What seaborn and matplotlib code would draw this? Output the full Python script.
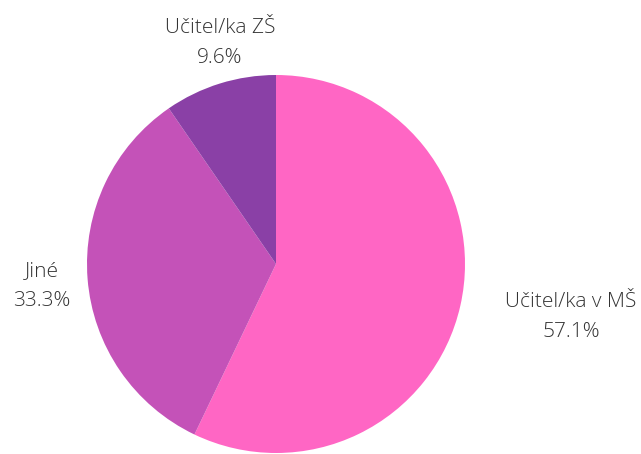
import matplotlib
matplotlib.use("Agg")
import matplotlib.pyplot as plt
import seaborn as sns

categories = ["Učitel/ka v MŠ", "Jiné", "Učitel/ka ZŠ"]
values = [57.1, 33.3, 9.6]
colors = ["#FF66C4", "#C452B8", "#8A40A6"]

sns.set_theme(style="white")
plt.rcParams['font.family'] = ['Open Sans', 'DejaVu Sans']

fig = plt.figure(figsize=(6.41, 4.54), dpi=100)
ax = fig.add_axes([87/641, 1/454, 378/641, 378/454])

wedges, texts = ax.pie(values, colors=sns.color_palette(colors), startangle=90,
                       counterclock=False, radius=1.0,
                       labels=[f"{c}\n{v:.1f}%" for c, v in zip(categories, values)],
                       wedgeprops=dict(linewidth=0))
ax.set_xlim(-1, 1)
ax.set_ylim(-1, 1)
ax.set_aspect('equal')
ax.axis('off')

label_pos = [(1.56, -0.28), (-1.24, -0.117), (-0.296, 1.17)]
for t, (x, y) in zip(texts, label_pos):
    t.set_position((x, y))
    t.set_ha('center')
    t.set_va('center')
    t.set_fontsize(15)
    t.set_fontweight('light')
    t.set_color('#333333')
    t.set_linespacing(1.7)

fig.savefig("out.png", dpi=100)
